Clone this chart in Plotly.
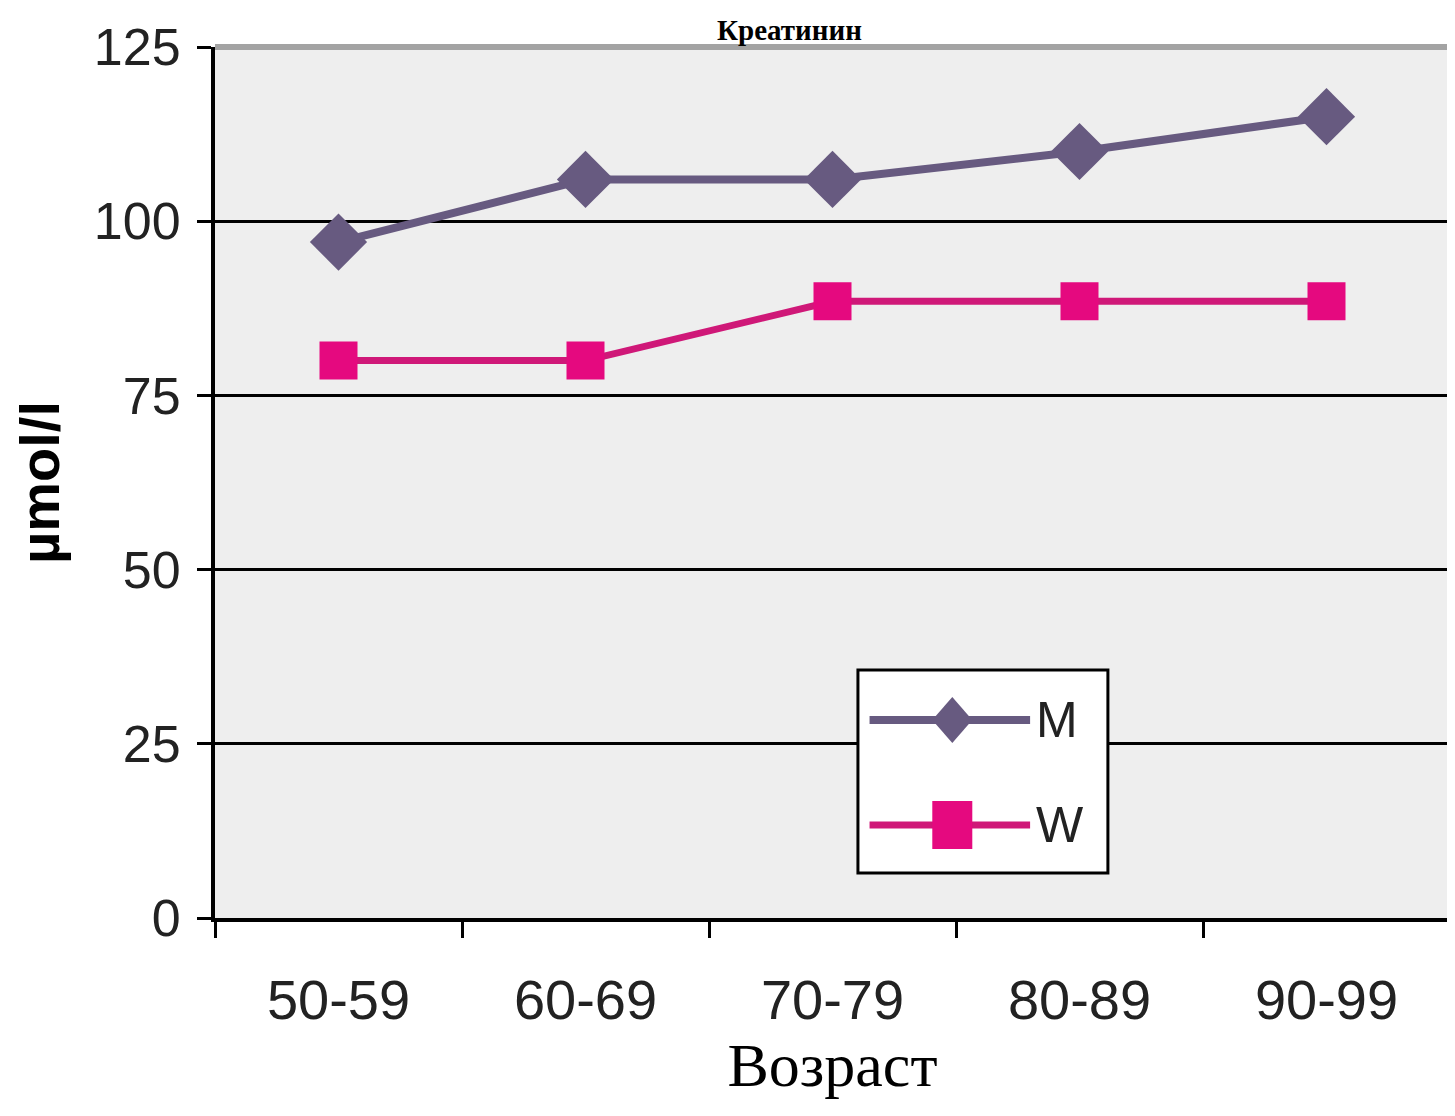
import plotly.graph_objects as go

categories = ["50-59", "60-69", "70-79", "80-89", "90-99"]
men = [97, 106, 106, 110, 115]
women = [80, 80, 88.5, 88.5, 88.5]
y_ticks = [0, 25, 50, 75, 100, 125]
series_names = ["M", "W"]

title_text = "Креатинин"
x_title = "Возраст"
y_title = "µmol/l"

M_COLOR = "#675a80"
W_LINE = "#cf1878"
W_MARK = "#e5097f"

SANS = "Liberation Sans, Arial, sans-serif"
SERIF = "Liberation Serif, Times New Roman, serif"

fig = go.Figure()
fig.add_trace(go.Scatter(
    x=categories, y=men, name=series_names[0], mode="lines+markers",
    line=dict(color=M_COLOR, width=8),
    marker=dict(symbol="diamond", size=44, color=M_COLOR),
    showlegend=False,
))
fig.add_trace(go.Scatter(
    x=categories, y=women, name=series_names[1], mode="lines+markers",
    line=dict(color=W_LINE, width=7),
    marker=dict(symbol="square", size=38, color=W_MARK),
    showlegend=False,
))

# custom legend box (styling only)
lx0, lx1, ly0, ly1 = 0.5206, 0.723, 0.0517, 0.2847
row_y = [0.2273, 0.1068]
sample_x0, sample_x1, sym_x, text_x = 0.530, 0.660, 0.597, 0.663

shapes = [
    dict(type="line", xref="paper", yref="paper", x0=0, x1=1, y0=1, y1=1,
         line=dict(color="#a3a3a3", width=6), layer="above"),
    dict(type="line", xref="paper", yref="paper", x0=1, x1=1, y0=0, y1=1,
         line=dict(color="#b0b0b0", width=3), layer="above"),
    dict(type="rect", xref="paper", yref="paper", x0=lx0, x1=lx1, y0=ly0, y1=ly1,
         line=dict(color="black", width=3), fillcolor="white", layer="above"),
    dict(type="line", xref="paper", yref="paper", x0=sample_x0, x1=sample_x1,
         y0=row_y[0], y1=row_y[0], line=dict(color=M_COLOR, width=8), layer="above"),
    dict(type="line", xref="paper", yref="paper", x0=sample_x0, x1=sample_x1,
         y0=row_y[1], y1=row_y[1], line=dict(color=W_LINE, width=7), layer="above"),
    dict(type="path", xref="paper", yref="paper", xsizemode="pixel", ysizemode="pixel",
         xanchor=sym_x, yanchor=row_y[0], path="M 0 23 L 20 0 L 0 -23 L -20 0 Z",
         fillcolor=M_COLOR, line=dict(color=M_COLOR, width=0), layer="above"),
    dict(type="rect", xref="paper", yref="paper", xsizemode="pixel", ysizemode="pixel",
         xanchor=sym_x, yanchor=row_y[1], x0=-20, x1=20, y0=-24, y1=24,
         fillcolor=W_MARK, line=dict(color=W_MARK, width=0), layer="above"),
]

annotations = [
    dict(text="<b>" + title_text + "</b>", xref="paper", yref="paper",
         x=0.465, y=1.0, xanchor="center", yanchor="bottom", showarrow=False,
         borderpad=0, font=dict(family=SERIF, size=29, color="black")),
]
for name, ry in zip(series_names, row_y):
    annotations.append(dict(text=name, xref="paper", yref="paper", x=text_x, y=ry,
                            xanchor="left", yanchor="middle", showarrow=False,
                            font=dict(family=SANS, size=50, color="#222222")))

fig.update_layout(
    width=1447, height=1108,
    margin=dict(l=207, r=5, t=39, b=198),
    paper_bgcolor="white",
    plot_bgcolor="#eeeeee",
    showlegend=False,
    annotations=annotations,
    shapes=shapes,
)

fig.update_xaxes(
    type="category", range=[-0.5, len(categories) - 0.5],
    tickson="boundaries", automargin=False,
    ticks="outside", ticklen=16, tickwidth=3, tickcolor="black",
    showline=True, linecolor="black", linewidth=4,
    showgrid=False, ticklabelstandoff=30,
    tickfont=dict(family=SANS, size=56, color="#222222"),
    title=dict(text=x_title, font=dict(family=SERIF, size=62, color="black"), standoff=6),
)
fig.update_yaxes(
    range=[0, 125], tickvals=y_ticks, automargin=False,
    ticks="outside", ticklen=14, tickwidth=3, tickcolor="black",
    showline=True, linecolor="black", linewidth=4,
    showgrid=True, gridcolor="black", gridwidth=3,
    zeroline=False, ticklabelstandoff=6,
    tickfont=dict(family=SANS, size=52, color="#222222"),
    title=dict(text="<b>" + y_title + "</b>", font=dict(family=SANS, size=56, color="black"), standoff=24),
)

fig.write_html("out.html")
